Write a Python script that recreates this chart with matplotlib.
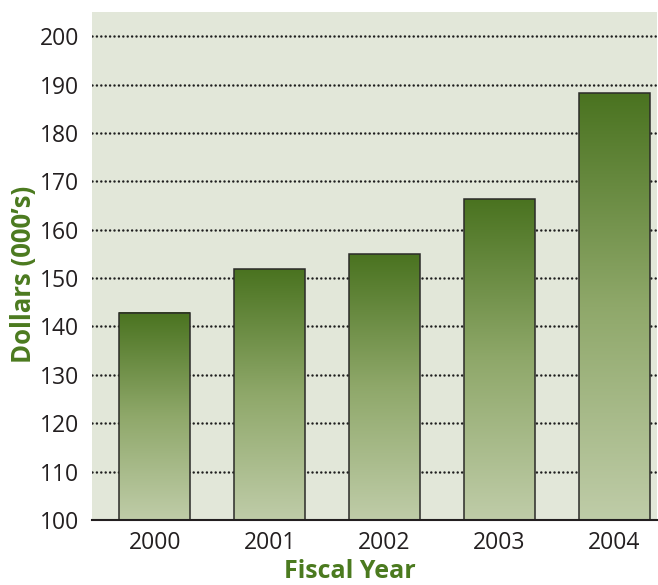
import numpy as np
import matplotlib
matplotlib.use('Agg')
import matplotlib.pyplot as plt
from matplotlib.colors import LinearSegmentedColormap

years = ['2000', '2001', '2002', '2003', '2004']
values = [142.8, 151.8, 154.9, 166.3, 188.2]
yticks = [100, 110, 120, 130, 140, 150, 160, 170, 180, 190, 200]
base = 100

plt.rcParams['font.family'] = ['Open Sans', 'DejaVu Sans']

fig = plt.figure(figsize=(6.58, 5.85), dpi=100)
W, H = 658, 585
ax = fig.add_axes([92 / W, 65 / H, 565 / W, 508 / H])
ax.set_facecolor('#e2e7d9')

x = np.arange(len(years))
heights = [v - base for v in values]
bars = ax.bar(x, heights, bottom=base, width=0.617, facecolor='none',
              edgecolor='#2b2b28', linewidth=1.1, zorder=3)

cmap = LinearSegmentedColormap.from_list('g', ['#bfcca8', '#8fa86a', '#4a7320'])
grad = np.linspace(0, 1, 256).reshape(-1, 1)
for b in bars:
    x0, y0 = b.get_x(), b.get_y()
    w, h = b.get_width(), b.get_height()
    ax.imshow(grad, extent=[x0, x0 + w, y0, y0 + h], origin='lower',
              cmap=cmap, aspect='auto', zorder=2.5, interpolation='bilinear')

ax.set_xlim(-0.545, 4.37)
ax.set_ylim(100, 205)
ax.set_yticks(yticks)
ax.set_xticks(x)
ax.set_xticklabels(years)

ax.yaxis.grid(True, color='#1f1f1f', linestyle=(0, (0.01, 1.75)),
              linewidth=1.8)
ax.xaxis.grid(False)
ax.set_axisbelow(True)
for ln in ax.get_ygridlines():
    ln.set_dash_capstyle('round')

for s in ['left', 'top', 'right']:
    ax.spines[s].set_visible(False)
ax.spines['bottom'].set_color('#231f20')
ax.spines['bottom'].set_linewidth(1.5)
ax.spines['bottom'].set_zorder(4)

ax.tick_params(axis='y', length=0, pad=9, labelsize=16.5, labelcolor='#231f20')
ax.tick_params(axis='x', length=0, pad=8, labelsize=16.5, labelcolor='#231f20')

green = '#4b7a1f'
fig.text(350 / W, 1 - 572 / H, 'Fiscal Year', ha='center', va='center',
         fontsize=18, fontweight='bold', color=green)
fig.text(24 / W, 1 - 274 / H, "Dollars (000\u2019s)", ha='center', va='center',
         rotation=90, fontsize=18.5, fontweight='bold', color=green)

fig.savefig('out.png', dpi=100)
